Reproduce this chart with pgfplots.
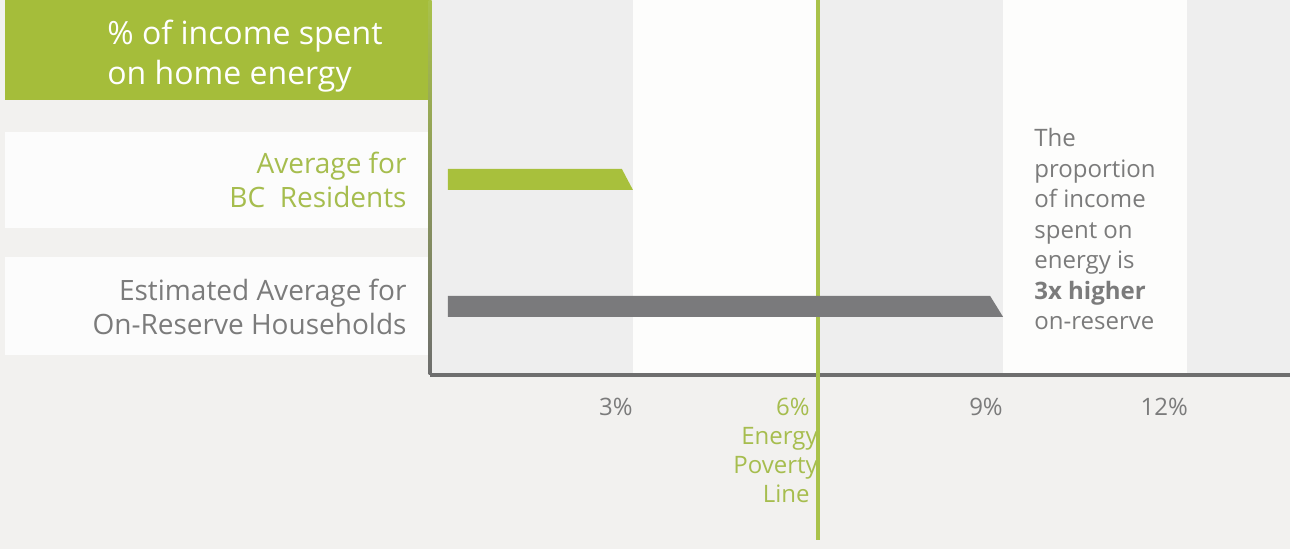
\documentclass[border=0pt]{standalone}
\usepackage{pgfplots}
\pgfplotsset{compat=1.18}
\usepackage{fontspec}
\setmainfont{Open Sans}
\definecolor{hgreen}{HTML}{A5BD3A}
\definecolor{bgreen}{HTML}{A8C03C}
\definecolor{tgreen}{HTML}{A6BD4E}
\definecolor{lgreen}{HTML}{A9C24A}
\definecolor{bargray}{HTML}{7A7A7C}
\definecolor{tgray}{HTML}{7B7B7B}
\definecolor{axgray}{HTML}{6E6E6E}
\definecolor{bg}{HTML}{F2F1EF}
\definecolor{stripe}{HTML}{EEEEEE}
\definecolor{wstripe}{HTML}{FDFDFC}
\definecolor{rowwhite}{HTML}{FCFCFC}
\begin{document}
\begin{tikzpicture}
\begin{scope}[x=0.5pt,y=-0.5pt]
\fill[bg] (0,0) rectangle (1290,549);
\fill[stripe] (430,0) rectangle (1290,375);
\fill[wstripe] (633,0) rectangle (818,375);
\fill[wstripe] (1003,0) rectangle (1187,375);
\fill[hgreen] (5,0) rectangle (430,100);
\fill[rowwhite] (5,132) rectangle (430,228);
\fill[rowwhite] (5,257) rectangle (430,355);
\node[anchor=north west, inner sep=0pt, align=left, text=white,
  font=\fontsize{16}{20}\selectfont] at (107,20) {\% of income spent\\on home energy};
\node[anchor=north west, inner sep=0pt, align=left, text=tgray,
  font=\fontsize{12}{15.25}\selectfont] at (1034,128)
  {The\\proportion\\of income\\spent on\\energy is\\\textbf{3x higher}\\on-reserve};
\shade[top color=lgreen, bottom color=axgray] (428.5,0) rectangle (431.5,375);
\end{scope}
\begin{axis}[
  at={(215pt,0pt)}, anchor=north west,
  scale only axis, width=430pt, height=187.5pt,
  xmin=-0.29, xmax=13.65, ymin=0, ymax=375,
  axis x line*=bottom, axis y line*=left,
  x axis line style={-, line width=2pt, draw=axgray},
  y axis line style={draw=none},
  major tick length=0pt,
  clip=false,
  xtick={3,6,9,12},
  xticklabels={3\%,
    {\textcolor{tgreen}{6\%}\hspace*{4pt}\\\textcolor{tgreen}{Energy}\hspace*{4pt}\\\textcolor{tgreen}{Poverty}\hspace*{4pt}\\\textcolor{tgreen}{Line}\hspace*{4pt}},
    9\%, 12\%},
  xticklabel style={anchor=north east, inner sep=0pt, yshift=-11.5pt, text=tgray,
    align=right, font=\fontsize{12}{14.5}\selectfont},
  ytick={68.5,195.5},
  yticklabels={{\textcolor{tgray}{Estimated Average for}\\\textcolor{tgray}{On-Reserve Households}},
    {\textcolor{tgreen}{Average for}\\\textcolor{tgreen}{BC\ \ Residents}}},
  yticklabel style={anchor=east, inner sep=0pt, xshift=-11.5pt, align=right,
    font=\fontsize{14}{17}\selectfont},
]
\addplot[lgreen, line width=2pt, forget plot] coordinates {(6,375) (6,-165)};
\addplot[fill=bgreen, draw=none] coordinates {(0,185) (3,185) (2.82,206) (0,206)} -- cycle;
\addplot[fill=bargray, draw=none] coordinates {(0,58) (9,58) (8.79,79) (0,79)} -- cycle;
\end{axis}
\pgfresetboundingbox
\path (0pt,0pt) rectangle (645pt,-274.5pt);
\end{tikzpicture}
\end{document}
